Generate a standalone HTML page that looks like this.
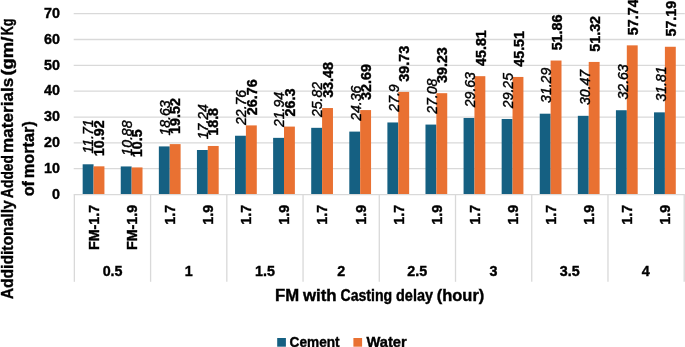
<!DOCTYPE html>
<html lang="en"><head><meta charset="utf-8"><title>Additionally added materials chart</title>
<style>html,body{margin:0;padding:0;background:#fff;overflow:hidden}svg{display:block}text{font-family:"Liberation Sans",sans-serif;fill:#000}.b{font-weight:bold;stroke:#000;stroke-width:.4px}.i{font-style:italic;stroke:#000;stroke-width:.4px}</style></head><body>
<svg width="685" height="347" viewBox="0 0 685 347">
<rect width="685" height="347" fill="#fff"/>
<line x1="73.7" x2="684.8" y1="168.71" y2="168.71" stroke="#D9D9D9" stroke-width="1.3"/>
<line x1="73.7" x2="684.8" y1="142.87" y2="142.87" stroke="#D9D9D9" stroke-width="1.3"/>
<line x1="73.7" x2="684.8" y1="117.03" y2="117.03" stroke="#D9D9D9" stroke-width="1.3"/>
<line x1="73.7" x2="684.8" y1="91.19" y2="91.19" stroke="#D9D9D9" stroke-width="1.3"/>
<line x1="73.7" x2="684.8" y1="65.35" y2="65.35" stroke="#D9D9D9" stroke-width="1.3"/>
<line x1="73.7" x2="684.8" y1="39.51" y2="39.51" stroke="#D9D9D9" stroke-width="1.3"/>
<line x1="73.7" x2="684.8" y1="13.67" y2="13.67" stroke="#D9D9D9" stroke-width="1.3"/>
<rect x="82.67" y="164.29" width="10.88" height="30.26" fill="#156082"/>
<rect x="93.55" y="166.33" width="10.88" height="28.22" fill="#E97132"/>
<rect x="120.75" y="166.44" width="10.88" height="28.11" fill="#156082"/>
<rect x="131.63" y="167.42" width="10.88" height="27.13" fill="#E97132"/>
<rect x="158.85" y="146.41" width="10.88" height="48.14" fill="#156082"/>
<rect x="169.73" y="144.11" width="10.88" height="50.44" fill="#E97132"/>
<rect x="196.94" y="150.00" width="10.88" height="44.55" fill="#156082"/>
<rect x="207.81" y="145.97" width="10.88" height="48.58" fill="#E97132"/>
<rect x="235.03" y="135.74" width="10.88" height="58.81" fill="#156082"/>
<rect x="245.91" y="125.40" width="10.88" height="69.15" fill="#E97132"/>
<rect x="273.12" y="137.86" width="10.88" height="56.69" fill="#156082"/>
<rect x="284.00" y="126.59" width="10.88" height="67.96" fill="#E97132"/>
<rect x="311.21" y="127.83" width="10.88" height="66.72" fill="#156082"/>
<rect x="322.09" y="108.04" width="10.88" height="86.51" fill="#E97132"/>
<rect x="349.30" y="131.60" width="10.88" height="62.95" fill="#156082"/>
<rect x="360.18" y="110.08" width="10.88" height="84.47" fill="#E97132"/>
<rect x="387.39" y="122.46" width="10.88" height="72.09" fill="#156082"/>
<rect x="398.27" y="91.89" width="10.88" height="102.66" fill="#E97132"/>
<rect x="425.48" y="124.58" width="10.88" height="69.97" fill="#156082"/>
<rect x="436.36" y="93.18" width="10.88" height="101.37" fill="#E97132"/>
<rect x="463.57" y="117.99" width="10.88" height="76.56" fill="#156082"/>
<rect x="474.45" y="76.18" width="10.88" height="118.37" fill="#E97132"/>
<rect x="501.66" y="118.97" width="10.88" height="75.58" fill="#156082"/>
<rect x="512.54" y="76.95" width="10.88" height="117.60" fill="#E97132"/>
<rect x="539.75" y="113.70" width="10.88" height="80.85" fill="#156082"/>
<rect x="550.62" y="60.54" width="10.88" height="134.01" fill="#E97132"/>
<rect x="577.84" y="115.82" width="10.88" height="78.73" fill="#156082"/>
<rect x="588.72" y="61.94" width="10.88" height="132.61" fill="#E97132"/>
<rect x="615.93" y="110.23" width="10.88" height="84.32" fill="#156082"/>
<rect x="626.81" y="45.35" width="10.88" height="149.20" fill="#E97132"/>
<rect x="654.02" y="112.35" width="10.88" height="82.20" fill="#156082"/>
<rect x="664.90" y="46.77" width="10.88" height="147.78" fill="#E97132"/>
<line x1="73.7" x2="684.8" y1="194.55" y2="194.55" stroke="#D9D9D9" stroke-width="1.3"/>
<line x1="74.36" x2="74.36" y1="194.55" y2="281.8" stroke="#D9D9D9" stroke-width="1.3"/>
<line x1="150.59" x2="150.59" y1="194.55" y2="281.8" stroke="#D9D9D9" stroke-width="1.3"/>
<line x1="226.82" x2="226.82" y1="194.55" y2="281.8" stroke="#D9D9D9" stroke-width="1.3"/>
<line x1="303.05" x2="303.05" y1="194.55" y2="281.8" stroke="#D9D9D9" stroke-width="1.3"/>
<line x1="379.28" x2="379.28" y1="194.55" y2="281.8" stroke="#D9D9D9" stroke-width="1.3"/>
<line x1="455.51" x2="455.51" y1="194.55" y2="281.8" stroke="#D9D9D9" stroke-width="1.3"/>
<line x1="531.74" x2="531.74" y1="194.55" y2="281.8" stroke="#D9D9D9" stroke-width="1.3"/>
<line x1="607.97" x2="607.97" y1="194.55" y2="281.8" stroke="#D9D9D9" stroke-width="1.3"/>
<line x1="684.20" x2="684.20" y1="194.55" y2="281.8" stroke="#D9D9D9" stroke-width="1.3"/>
<text class="b" x="59.9" y="198.85" font-size="14.3" text-anchor="end">0</text>
<text class="b" x="59.9" y="173.01" font-size="14.3" text-anchor="end">10</text>
<text class="b" x="59.9" y="147.17" font-size="14.3" text-anchor="end">20</text>
<text class="b" x="59.9" y="121.33" font-size="14.3" text-anchor="end">30</text>
<text class="b" x="59.9" y="95.49" font-size="14.3" text-anchor="end">40</text>
<text class="b" x="59.9" y="69.65" font-size="14.3" text-anchor="end">50</text>
<text class="b" x="59.9" y="43.81" font-size="14.3" text-anchor="end">60</text>
<text class="b" x="59.9" y="17.97" font-size="14.3" text-anchor="end">70</text>
<text class="b" font-size="14.3" text-anchor="end" transform="translate(98.95,204.8) rotate(-90)">FM-1.7</text>
<text class="b" font-size="14.3" text-anchor="end" transform="translate(137.03,204.8) rotate(-90)">FM-1.9</text>
<text class="b" font-size="14.3" text-anchor="end" transform="translate(175.13,204.8) rotate(-90)">1.7</text>
<text class="b" font-size="14.3" text-anchor="end" transform="translate(213.22,204.8) rotate(-90)">1.9</text>
<text class="b" font-size="14.3" text-anchor="end" transform="translate(251.31,204.8) rotate(-90)">1.7</text>
<text class="b" font-size="14.3" text-anchor="end" transform="translate(289.39,204.8) rotate(-90)">1.9</text>
<text class="b" font-size="14.3" text-anchor="end" transform="translate(327.49,204.8) rotate(-90)">1.7</text>
<text class="b" font-size="14.3" text-anchor="end" transform="translate(365.57,204.8) rotate(-90)">1.9</text>
<text class="b" font-size="14.3" text-anchor="end" transform="translate(403.67,204.8) rotate(-90)">1.7</text>
<text class="b" font-size="14.3" text-anchor="end" transform="translate(441.75,204.8) rotate(-90)">1.9</text>
<text class="b" font-size="14.3" text-anchor="end" transform="translate(479.85,204.8) rotate(-90)">1.7</text>
<text class="b" font-size="14.3" text-anchor="end" transform="translate(517.94,204.8) rotate(-90)">1.9</text>
<text class="b" font-size="14.3" text-anchor="end" transform="translate(556.02,204.8) rotate(-90)">1.7</text>
<text class="b" font-size="14.3" text-anchor="end" transform="translate(594.12,204.8) rotate(-90)">1.9</text>
<text class="b" font-size="14.3" text-anchor="end" transform="translate(632.21,204.8) rotate(-90)">1.7</text>
<text class="b" font-size="14.3" text-anchor="end" transform="translate(670.30,204.8) rotate(-90)">1.9</text>
<text class="b" font-size="14.3" text-anchor="middle" x="112.59" y="276.4">0.5</text>
<text class="b" font-size="14.3" text-anchor="middle" x="188.77" y="276.4">1</text>
<text class="b" font-size="14.3" text-anchor="middle" x="264.95" y="276.4">1.5</text>
<text class="b" font-size="14.3" text-anchor="middle" x="341.13" y="276.4">2</text>
<text class="b" font-size="14.3" text-anchor="middle" x="417.31" y="276.4">2.5</text>
<text class="b" font-size="14.3" text-anchor="middle" x="493.49" y="276.4">3</text>
<text class="b" font-size="14.3" text-anchor="middle" x="569.67" y="276.4">3.5</text>
<text class="b" font-size="14.3" text-anchor="middle" x="645.85" y="276.4">4</text>
<text class="i" font-size="14.7" transform="translate(93.46,153.49) rotate(-90) scale(.955,1)">11.71</text>
<text class="b" font-size="14.3" transform="translate(103.89,156.13) rotate(-90)">10.92</text>
<text class="i" font-size="14.7" transform="translate(131.62,155.64) rotate(-90) scale(.955,1)">10.88</text>
<text class="b" font-size="14.3" transform="translate(142.05,157.22) rotate(-90)">10.5</text>
<text class="i" font-size="14.7" transform="translate(169.78,135.61) rotate(-90) scale(.955,1)">18.63</text>
<text class="b" font-size="14.3" transform="translate(180.21,133.91) rotate(-90)">19.52</text>
<text class="i" font-size="14.7" transform="translate(207.94,139.20) rotate(-90) scale(.955,1)">17.24</text>
<text class="b" font-size="14.3" transform="translate(218.38,135.77) rotate(-90)">18.8</text>
<text class="i" font-size="14.7" transform="translate(246.11,124.94) rotate(-90) scale(.955,1)">22.76</text>
<text class="b" font-size="14.3" transform="translate(256.54,115.20) rotate(-90)">26.76</text>
<text class="i" font-size="14.7" transform="translate(284.27,127.06) rotate(-90) scale(.955,1)">21.94</text>
<text class="b" font-size="14.3" transform="translate(294.70,116.39) rotate(-90)">26.3</text>
<text class="i" font-size="14.7" transform="translate(322.44,117.03) rotate(-90) scale(.955,1)">25.82</text>
<text class="b" font-size="14.3" transform="translate(332.87,97.84) rotate(-90)">33.48</text>
<text class="i" font-size="14.7" transform="translate(360.60,120.80) rotate(-90) scale(.955,1)">24.36</text>
<text class="b" font-size="14.3" transform="translate(371.03,99.88) rotate(-90)">32.69</text>
<text class="i" font-size="14.7" transform="translate(398.76,111.66) rotate(-90) scale(.955,1)">27.9</text>
<text class="b" font-size="14.3" transform="translate(409.19,81.69) rotate(-90)">39.73</text>
<text class="i" font-size="14.7" transform="translate(436.93,113.78) rotate(-90) scale(.955,1)">27.08</text>
<text class="b" font-size="14.3" transform="translate(447.36,82.98) rotate(-90)">39.23</text>
<text class="i" font-size="14.7" transform="translate(475.09,107.19) rotate(-90) scale(.955,1)">29.63</text>
<text class="b" font-size="14.3" transform="translate(485.52,65.98) rotate(-90)">45.81</text>
<text class="i" font-size="14.7" transform="translate(513.25,108.17) rotate(-90) scale(.955,1)">29.25</text>
<text class="b" font-size="14.3" transform="translate(523.68,66.75) rotate(-90)">45.51</text>
<text class="i" font-size="14.7" transform="translate(551.41,102.90) rotate(-90) scale(.955,1)">31.29</text>
<text class="b" font-size="14.3" transform="translate(561.85,50.34) rotate(-90)">51.86</text>
<text class="i" font-size="14.7" transform="translate(589.58,105.02) rotate(-90) scale(.955,1)">30.47</text>
<text class="b" font-size="14.3" transform="translate(600.01,51.74) rotate(-90)">51.32</text>
<text class="i" font-size="14.7" transform="translate(627.74,99.43) rotate(-90) scale(.955,1)">32.63</text>
<text class="b" font-size="14.3" transform="translate(638.17,35.15) rotate(-90)">57.74</text>
<text class="i" font-size="14.7" transform="translate(665.91,101.55) rotate(-90) scale(.955,1)">31.81</text>
<text class="b" font-size="14.3" transform="translate(676.34,36.57) rotate(-90)">57.19</text>
<text class="b" font-size="15.8" y="301.4"><tspan x="275.00" textLength="24.10" lengthAdjust="spacingAndGlyphs">FM</tspan> <tspan x="302.90" textLength="33.70" lengthAdjust="spacingAndGlyphs">with</tspan> <tspan x="340.50" textLength="51.70" lengthAdjust="spacingAndGlyphs">Casting</tspan> <tspan x="396.00" textLength="37.00" lengthAdjust="spacingAndGlyphs">delay</tspan> <tspan x="436.80" textLength="47.50" lengthAdjust="spacingAndGlyphs">(hour)</tspan></text>
<text class="b" font-size="16.7" y="0" transform="translate(13.4,0) rotate(-90)"><tspan x="-299.30" textLength="99.00" lengthAdjust="spacingAndGlyphs">Addiditonally</tspan> <tspan x="-197.90" textLength="42.80" lengthAdjust="spacingAndGlyphs">Added</tspan> <tspan x="-152.90" textLength="75.10" lengthAdjust="spacingAndGlyphs">materials</tspan> <tspan x="-75.60" textLength="39.00" lengthAdjust="spacingAndGlyphs">(gm/</tspan> <tspan x="-35.30" textLength="16.90" lengthAdjust="spacingAndGlyphs">Kg</tspan></text>
<text class="b" font-size="16.7" y="0" transform="translate(33.9,0) rotate(-90)"><tspan x="-196.30" textLength="15.30" lengthAdjust="spacingAndGlyphs">of</tspan> <tspan x="-178.30" textLength="57.20" lengthAdjust="spacingAndGlyphs">mortar)</tspan></text>
<rect x="277.2" y="338" width="8.7" height="8.7" fill="#156082"/>
<text class="b" font-size="14.3" x="289.6" y="346.8" textLength="50" lengthAdjust="spacingAndGlyphs">Cement</text>
<rect x="353.4" y="338" width="8.7" height="8.7" fill="#E97132"/>
<text class="b" font-size="14.3" x="366.4" y="346.8" textLength="40.3" lengthAdjust="spacingAndGlyphs">Water</text>
</svg></body></html>
